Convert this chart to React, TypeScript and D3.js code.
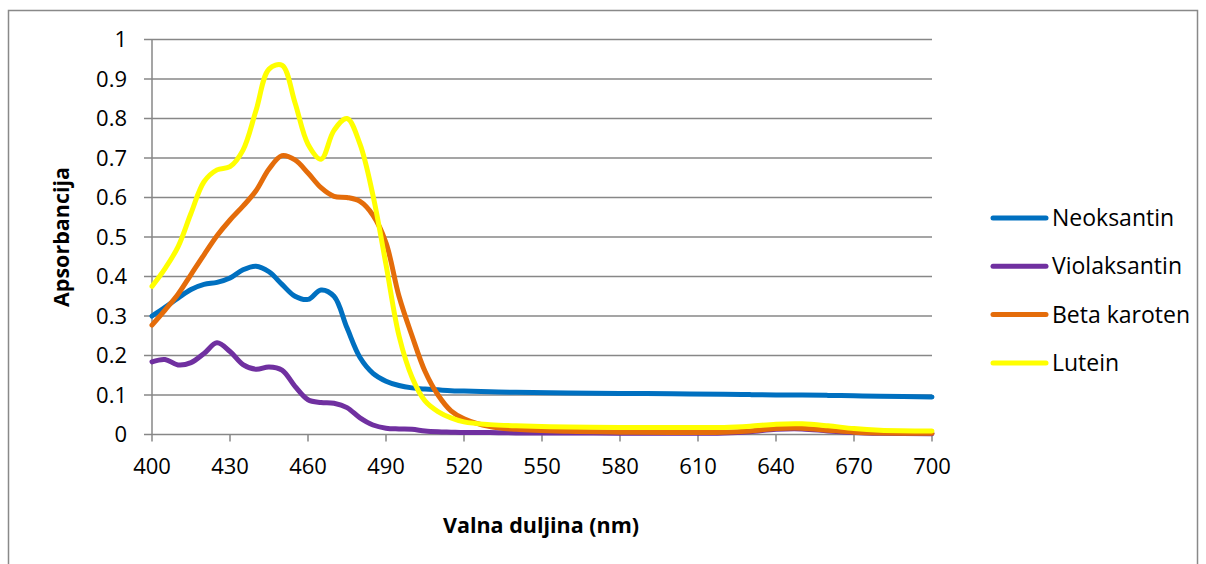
import { FC } from "react";
import * as d3 from "d3";

// wavelengths (nm) shared by every series
const wavelengths = [400, 405, 410, 415, 420, 425, 430, 435, 440, 445, 450, 455, 460, 465, 470, 475, 480, 485, 490, 495, 500, 505, 510, 515, 520, 530, 540, 560, 580, 600, 620, 630, 640, 650, 660, 670, 680, 700];

const neoksantin = [0.30, 0.322, 0.345, 0.367, 0.38, 0.385, 0.396, 0.417, 0.426, 0.412, 0.38, 0.35, 0.342, 0.366, 0.35, 0.27, 0.195, 0.155, 0.135, 0.124, 0.118, 0.115, 0.113, 0.111, 0.11, 0.108, 0.107, 0.105, 0.104, 0.103, 0.102, 0.101, 0.1, 0.1, 0.099, 0.098, 0.097, 0.095];
const violaksantin = [0.184, 0.19, 0.176, 0.182, 0.205, 0.232, 0.21, 0.177, 0.165, 0.171, 0.163, 0.122, 0.088, 0.081, 0.079, 0.068, 0.042, 0.024, 0.016, 0.014, 0.013, 0.009, 0.007, 0.006, 0.005, 0.005, 0.004, 0.004, 0.003, 0.003, 0.004, 0.007, 0.013, 0.014, 0.009, 0.005, 0.003, 0.002];
const betaKaroten = [0.277, 0.315, 0.355, 0.405, 0.455, 0.503, 0.543, 0.578, 0.617, 0.672, 0.706, 0.695, 0.662, 0.625, 0.603, 0.60, 0.59, 0.555, 0.485, 0.35, 0.25, 0.16, 0.10, 0.06, 0.04, 0.02, 0.013, 0.008, 0.006, 0.005, 0.006, 0.009, 0.015, 0.016, 0.011, 0.006, 0.004, 0.003];
const lutein = [0.375, 0.42, 0.475, 0.56, 0.64, 0.67, 0.678, 0.72, 0.82, 0.925, 0.935, 0.84, 0.735, 0.697, 0.77, 0.80, 0.735, 0.605, 0.43, 0.25, 0.145, 0.085, 0.058, 0.042, 0.032, 0.025, 0.022, 0.019, 0.018, 0.018, 0.018, 0.021, 0.026, 0.027, 0.022, 0.015, 0.011, 0.009];

const seriesNames = ["Neoksantin", "Violaksantin", "Beta karoten", "Lutein"];
const seriesColors = ["#0070C0", "#7030A0", "#E46C0A", "#FFFF00"];
const seriesValues = [neoksantin, violaksantin, betaKaroten, lutein];

const xTicks = [400, 430, 460, 490, 520, 550, 580, 610, 640, 670, 700];
const yTicks = [0, 0.1, 0.2, 0.3, 0.4, 0.5, 0.6, 0.7, 0.8, 0.9, 1];

const FONT = "'Open Sans', sans-serif";

const App: FC = () => {
    const margin = { left: 152, right: 932, top: 39.5, bottom: 434.5 };

    const x = d3.scaleLinear().domain([400, 700]).range([margin.left, margin.right]);
    const y = d3.scaleLinear().domain([0, 1]).range([margin.bottom, margin.top]);

    const line = d3.line<number>()
        .x((_, i) => x(wavelengths[i]))
        .y((d) => y(d))
        .curve(d3.curveCatmullRom.alpha(0.5));

    return (
        <svg width={1206} height={564} style={{ position: "absolute", left: 0, top: 0, background: "#fff" }}>
            {/* chart border */}
            <rect x={8.5} y={10.5} width={1189} height={570} fill="#fff" stroke="#898989" strokeWidth={1.5} />

            {/* gridlines */}
            {yTicks.map((t) => (
                <line key={"g" + t} x1={x(400)} x2={x(700)} y1={y(t)} y2={y(t)} stroke="#878787" strokeWidth={1.5} />
            ))}
            {/* y axis */}
            <line x1={x(400)} x2={x(400)} y1={y(1)} y2={y(0)} stroke="#878787" strokeWidth={1.5} />
            {yTicks.map((t) => (
                <g key={"y" + t}>
                    <line x1={x(400) - 8} x2={x(400)} y1={y(t)} y2={y(t)} stroke="#878787" strokeWidth={1.5} />
                    <text x={127} y={y(t)} dy="0.35em" textAnchor="end" fontFamily={FONT} fontSize={22} fill="#000">
                        {t}
                    </text>
                </g>
            ))}
            {/* x ticks */}
            {xTicks.map((t) => (
                <g key={"x" + t}>
                    <line x1={x(t)} x2={x(t)} y1={y(0)} y2={y(0) + 7} stroke="#878787" strokeWidth={1.5} />
                    <text x={x(t)} y={466} dy="0.35em" textAnchor="middle" fontFamily={FONT} fontSize={22} fill="#000">
                        {t}
                    </text>
                </g>
            ))}

            {/* series */}
            {seriesValues.map((vals, i) => (
                <path key={seriesNames[i]} d={line(vals) || ""} fill="none" stroke={seriesColors[i]} strokeWidth={5} strokeLinejoin="round" strokeLinecap="round" />
            ))}

            {/* axis titles */}
            <text transform="translate(61,237) rotate(-90)" dy="0.35em" textAnchor="middle" fontFamily={FONT} fontSize={21.5} fontWeight="bold" fill="#000">
                Apsorbancija
            </text>
            <text x={541} y={525} dy="0.35em" textAnchor="middle" fontFamily={FONT} fontSize={21.5} fontWeight="bold" fill="#000">
                Valna duljina (nm)
            </text>

            {/* legend */}
            {seriesNames.map((name, i) => {
                const ly = 218 + i * 48.3;
                return (
                    <g key={"l" + name}>
                        <line x1={993} x2={1046} y1={ly} y2={ly} stroke={seriesColors[i]} strokeWidth={5} strokeLinecap="round" />
                        <text x={1052} y={ly} dy="0.35em" fontFamily={FONT} fontSize={23} fill="#000">
                            {name}
                        </text>
                    </g>
                );
            })}
        </svg>
    );
};

export default App;
